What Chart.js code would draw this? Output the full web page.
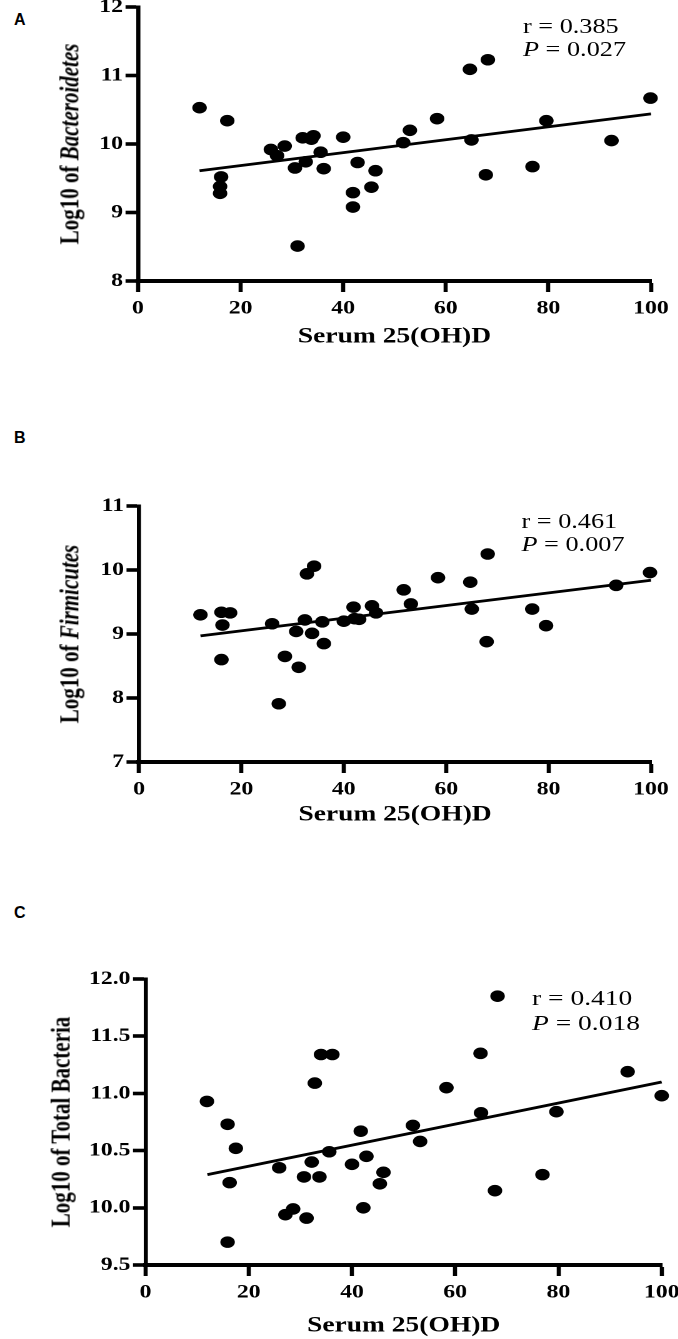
<!DOCTYPE html>
<html><head><meta charset="utf-8">
<script src="https://cdn.jsdelivr.net/npm/chart.js@4.4.1/dist/chart.umd.min.js"></script>
<style>
html,body{margin:0;padding:0;width:678px;height:1339px;overflow:hidden;background:#fff;}
.panel{position:absolute;left:0;transform-origin:0 0;transform:scaleX(1.25);}
.panel canvas{position:absolute;left:0;top:0;}
.ytitle{position:absolute;font:bold 21px 'Liberation Serif',serif;white-space:nowrap;transform:translate(-50%,-50%) rotate(-90deg);color:#000;}
.stat{position:absolute;font:21px 'Liberation Serif',serif;line-height:23px;white-space:nowrap;color:#000;}
.letter{position:absolute;font:bold 16px 'Liberation Sans',Arial,sans-serif;line-height:16px;color:#000;}
</style></head>
<body>
<div class="letter" style="left:14px;top:12px">A</div>
<div class="letter" style="left:14px;top:430px">B</div>
<div class="letter" style="left:14px;top:905px">C</div>

<div class="panel" id="pA"><canvas></canvas>
  <div class="ytitle" style="left:55.6px;top:174px">Log10 of <i>Bacteroidetes</i></div>
  <div class="stat" style="left:418.4px;top:45px">r = 0.385<br><i>P</i> = 0.027</div>
</div>
<div class="panel" id="pB"><canvas></canvas>
  <div class="ytitle" style="left:55.6px;top:214px">Log10 of <i>Firmicutes</i></div>
  <div class="stat" style="left:417.2px;top:89.7px">r = 0.461<br><i>P</i> = 0.007</div>
</div>
<div class="panel" id="pC"><canvas></canvas>
  <div class="ytitle" style="left:48.8px;top:232px">Log10 of Total Bacteria</div>
  <div class="stat" style="left:425.6px;top:95px;font-size:22px;line-height:25px">r = 0.410<br><i>P</i> = 0.018</div>
</div>

<script>
// ---- data ----
const xTitle = 'Serum 25(OH)D';
const xTicks = [0, 20, 40, 60, 80, 100];

const xA = [12.0,17.4,16.2,16.0,16.0,25.9,27.1,28.6,30.6,32.1,32.7,33.8,34.2,35.6,36.2,31.1,40.0,42.8,41.9,41.9,45.5,46.3,51.7,53.0,58.3,64.7,68.2,65.0,67.8,76.9,79.6,92.3,99.9];
const yA = [10.53,10.34,9.52,9.38,9.28,9.92,9.83,9.97,9.65,10.09,9.74,10.07,10.12,9.88,9.64,8.51,10.10,9.73,9.29,9.08,9.37,9.61,10.02,10.20,10.37,11.09,11.23,10.06,9.55,9.67,10.34,10.05,10.67];
const yTicksA = [8, 9, 10, 11, 12];

const xB = [12.0,16.1,17.8,16.3,16.1,26.0,27.3,28.5,30.7,31.2,32.4,32.8,34.2,33.8,35.8,36.1,40.0,41.9,42.1,43.0,45.5,46.3,51.7,53.1,58.4,64.7,65.0,68.1,67.9,76.8,79.5,93.2,99.8];
const yB = [9.30,9.34,9.33,9.14,8.60,9.16,7.91,8.65,9.04,8.48,9.22,9.94,10.06,9.01,9.19,8.85,9.20,9.42,9.24,9.23,9.44,9.33,9.69,9.47,9.88,9.81,9.39,10.25,8.88,9.39,9.13,9.76,9.96];
const yTicksB = [7, 8, 9, 10, 11];

const xC = [11.9,15.9,17.5,16.3,15.9,25.9,27.1,28.6,30.7,31.2,32.2,32.8,34.0,36.2,33.7,35.6,40.0,41.7,42.2,42.8,45.4,46.1,51.8,53.2,58.3,64.9,65.0,68.2,67.7,76.9,79.6,93.4,100.0];
const yC = [10.93,10.73,10.52,10.22,9.70,10.35,9.94,9.99,10.27,9.91,10.40,11.09,11.34,11.34,10.27,10.49,10.38,10.67,10.00,10.45,10.21,10.31,10.72,10.58,11.05,11.35,10.83,11.85,10.15,10.29,10.84,11.19,10.98];
const yTicksC = [9.5, 10.0, 10.5, 11.0, 11.5, 12.0];

// regression line end points
const fitX = [12, 100];
const fitA = [9.61, 10.44];
const fitB = [8.97, 9.84];
const fitC = [10.29, 11.10];

// ---- layout ----
const W = 600;
const serif = "'Liberation Serif', 'Times New Roman', serif";

function buildPanel(id, xs, ys, fitY, yTicks, decimals, L) {
  const wrap = document.getElementById(id);
  wrap.style.top = L.T + 'px';
  wrap.style.width = W + 'px';
  wrap.style.height = L.H + 'px';
  const cv = wrap.querySelector('canvas');
  cv.width = W; cv.height = L.H;
  const pts = xs.map((x, i) => ({x: x, y: ys[i]}));
  const fit = fitX.map((x, i) => ({x: x, y: fitY[i]}));
  const tickFont = {family: serif, weight: 'bold', size: 19};
  new Chart(cv, {
    type: 'scatter',
    data: {datasets: [
      {type: 'line', data: fit, borderColor: '#000', borderWidth: 2.8, pointRadius: 0, fill: false, clip: false, order: 2},
      {type: 'scatter', data: pts, backgroundColor: '#000', borderColor: '#000', borderWidth: 0,
       pointRadius: 5.8, pointHoverRadius: 5.8, clip: false, order: 1}
    ]},
    options: {
      responsive: false, animation: false, devicePixelRatio: 2, events: [],
      layout: {padding: {top: L.padTop, right: L.padRight, bottom: 0, left: 0}},
      plugins: {legend: {display: false}, tooltip: {enabled: false}},
      scales: {
        x: {
          type: 'linear', position: 'bottom', min: xTicks[0], max: xTicks[xTicks.length - 1],
          afterBuildTicks: s => { s.ticks = xTicks.map(v => ({value: v})); },
          afterFit: s => { s.height = L.xH; },
          ticks: {color: '#000', font: tickFont, padding: 5, maxRotation: 0, autoSkip: false},
          grid: {display: true, drawOnChartArea: false, drawTicks: true, tickLength: 11, tickWidth: 3.3, tickColor: '#000'},
          border: {display: true, color: '#000', width: 4},
          title: {display: true, text: xTitle, color: '#000', font: {family: serif, weight: 'bold', size: 22},
                  padding: {top: 0, bottom: L.tpb}}
        },
        y: {
          type: 'linear', position: 'left', min: yTicks[0], max: yTicks[yTicks.length - 1],
          afterBuildTicks: s => { s.ticks = yTicks.map(v => ({value: v})); },
          afterFit: s => { s.width = L.yW; },
          ticks: {color: '#000', font: tickFont, padding: 2, autoSkip: false,
                  callback: v => Number(v).toFixed(decimals)},
          grid: {display: true, drawOnChartArea: false, drawTicks: true, tickLength: 10, tickWidth: 3.6, tickColor: '#000'},
          border: {display: true, color: '#000', width: 3.3}
        }
      }
    }
  });
}

buildPanel('pA', xA, yA, fitA, yTicksA, 0, {T: -30, H: 380, padTop: 37, padRight: W - 651 / 1.25, xH: 69, tpb: 0, yW: 138 / 1.25});
buildPanel('pB', xB, yB, fitB, yTicksB, 0, {T: 420, H: 420, padTop: 86, padRight: W - 651 / 1.25, xH: 78, tpb: 12, yW: 139 / 1.25});
buildPanel('pC', xC, yC, fitC, yTicksC, 1, {T: 890, H: 449, padTop: 89, padRight: W - 661.7 / 1.25, xH: 74, tpb: 0, yW: 145.5 / 1.25});
</script>
</body></html>
